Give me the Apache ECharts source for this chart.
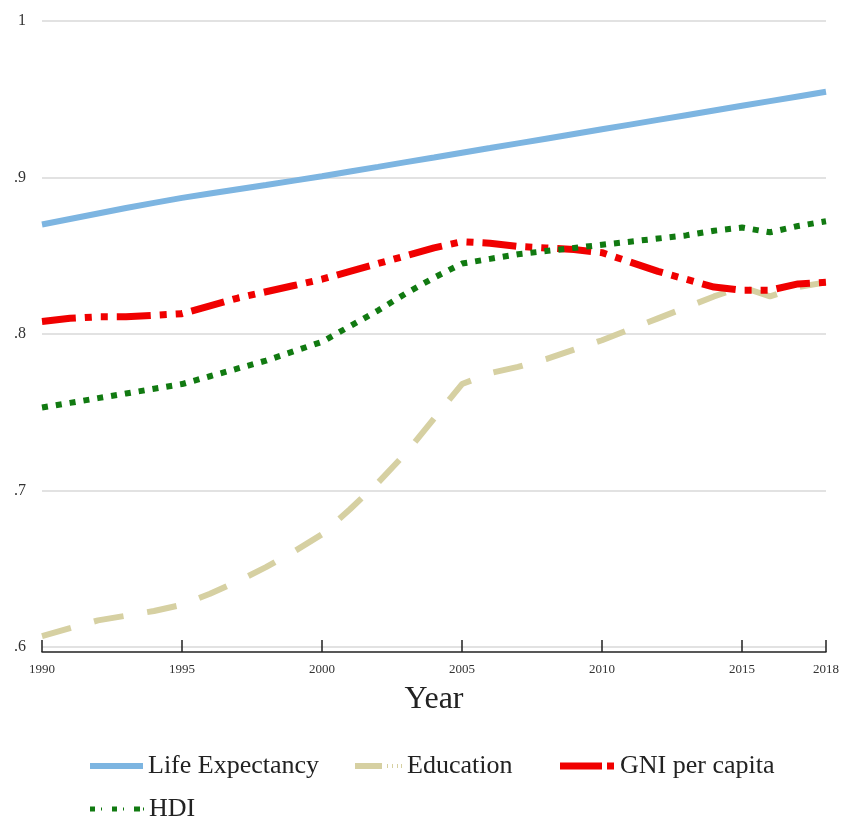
<!DOCTYPE html>
<html>
<head>
<meta charset="utf-8">
<script src="https://cdn.jsdelivr.net/npm/echarts@6/dist/echarts.min.js"></script>
<style>html,body{margin:0;padding:0;background:#fff}#c{width:848px;height:817px}</style>
</head>
<body>
<div id="c"></div>
<script>
const years = [1990,1991,1992,1993,1994,1995,1996,1997,1998,1999,2000,2001,2002,2003,2004,2005,2006,2007,2008,2009,2010,2011,2012,2013,2014,2015,2016,2017,2018];
const lifeExpectancy = [.870,.8735,.877,.8805,.8838,.887,.8898,.8925,.8952,.898,.9008,.9038,.9068,.9098,.9128,.9158,.9188,.9218,.9248,.9278,.9308,.9338,.9368,.9398,.9428,.9458,.9488,.9518,.9548];
const education = [.607,.612,.617,.620,.623,.627,.634,.642,.651,.661,.672,.688,.705,.724,.746,.768,.775,.779,.784,.790,.796,.803,.810,.817,.824,.830,.824,.830,.833];
const gniPerCapita = [.808,.810,.811,.811,.812,.813,.818,.823,.827,.831,.835,.840,.845,.850,.855,.859,.858,.856,.855,.854,.852,.846,.840,.835,.830,.828,.828,.832,.833];
const hdi = [.753,.756,.759,.762,.765,.768,.773,.778,.783,.789,.795,.805,.815,.826,.836,.845,.848,.851,.853,.855,.857,.859,.861,.863,.866,.868,.865,.869,.872];
const xTicks = [1990,1995,2000,2005,2010,2015,2018];
const seriesNames = ['Life Expectancy','Education','GNI per capita','HDI'];

const pairs = arr => years.map((y,i)=>[y,arr[i]]);
const serif = 'Liberation Serif';
const legText = {fontFamily:serif,fontSize:26,color:'#222'};
const chart = echarts.init(document.getElementById('c'));
chart.setOption({
  animation:false,
  backgroundColor:'#fff',
  grid:{left:42,right:22,top:21,bottom:170},
  xAxis:{
    type:'value',min:1990,max:2018,offset:5,
    name:'Year',nameLocation:'middle',nameGap:32,
    nameTextStyle:{fontFamily:serif,fontSize:32,color:'#222'},
    axisLine:{lineStyle:{color:'#222',width:1.5}},
    axisTick:{inside:true,length:12,customValues:xTicks,lineStyle:{color:'#222',width:1.5}},
    axisLabel:{customValues:xTicks,fontFamily:serif,fontSize:13,color:'#333',margin:11,formatter:v=>String(v)},
    splitLine:{show:false}
  },
  yAxis:{
    type:'value',min:0.6,max:1,interval:0.1,
    axisLine:{show:false},axisTick:{show:false},
    axisLabel:{fontFamily:serif,fontSize:16,color:'#333',margin:16,
      formatter:v=>{const r=Math.round(v*10)/10; return r===1?'1':String(r).replace(/^0/,'');}},
    splitLine:{lineStyle:{color:'#e2e2e2',width:2}}
  },
  legend:[
    {data:[{name:seriesNames[0],icon:'path://M0,0h53v6h-53z'}],left:90,top:753,padding:0,itemWidth:53,itemHeight:6,textStyle:legText},
    {data:[{name:seriesNames[1],icon:'path://M0,0h27v6h-27z M32,1h1v4h-1z M37,1h1v4h-1z M42,1h1v4h-1z M46,1h1v4h-1z'}],left:355,top:753,padding:0,itemWidth:47,itemHeight:6,textStyle:legText},
    {data:[{name:seriesNames[2],icon:'path://M0,0h42v7h-42z M47,0h7v7h-7z'}],left:560,top:753,padding:0,itemWidth:56,itemHeight:7,textStyle:legText},
    {data:[{name:seriesNames[3],icon:'path://M0,0h5v5h-5z M11,1h1v3h-1z M22,0h5v5h-5z M33,1h1v3h-1z M44,0h6v5h-6z M53,1h1v3h-1z'}],left:90,top:796,padding:0,itemWidth:54,itemHeight:5,textStyle:legText}
  ],
  series:[
    {name:seriesNames[0],type:'line',data:pairs(lifeExpectancy),showSymbol:false,symbol:'none',
     lineStyle:{color:'#7db5e1',width:6},itemStyle:{color:'#7db5e1'}},
    {name:seriesNames[1],type:'line',data:pairs(education),showSymbol:false,symbol:'none',
     lineStyle:{color:'#d6d0a2',width:6,type:[30,24]},itemStyle:{color:'#d6d0a2'}},
    {name:seriesNames[2],type:'line',data:pairs(gniPerCapita),showSymbol:false,symbol:'none',
     lineStyle:{color:'#f00000',width:7,type:[34,9,7,9,7,9]},itemStyle:{color:'#f00000'}},
    {name:seriesNames[3],type:'line',data:pairs(hdi),showSymbol:false,symbol:'none',
     lineStyle:{color:'#117a11',width:6,type:[6,8]},itemStyle:{color:'#117a11'}}
  ]
});
</script>
</body>
</html>
